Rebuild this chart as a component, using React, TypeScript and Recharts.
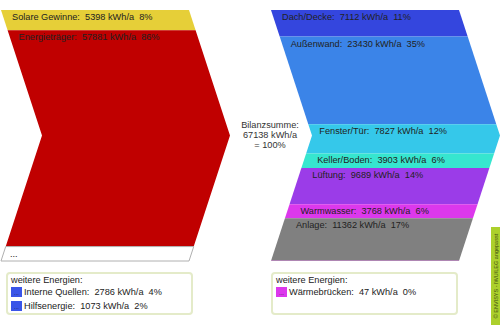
import React from 'react';
import { BarChart, Bar, XAxis, YAxis } from 'recharts';

// Energiezufuhr (linker Pfeil), von oben nach unten
const zufuhrNames = ['Solare Gewinne', 'Energieträger'];
const zufuhrValues = [5398, 57881];
const zufuhrColors = ['#e6cf38', '#c00000'];

const weitereZufuhrNames = ['Interne Quellen', 'Hilfsenergie'];
const weitereZufuhrValues = [2786, 1073];
const weitereZufuhrColors = ['#3a55e8', '#3a55e8'];

// Verluste (rechter Pfeil), von oben nach unten
const verlustNames = ['Dach/Decke', 'Außenwand', 'Fenster/Tür', 'Keller/Boden', 'Lüftung', 'Warmwasser', 'Anlage'];
const verlustValues = [7112, 23430, 7827, 3903, 9689, 3768, 11362];
const verlustColors = ['#3446de', '#3b84e8', '#35c8ea', '#36e6cf', '#9b3ce8', '#dc38ec', '#808080'];

const weitereVerlustNames = ['Wärmebrücken'];
const weitereVerlustValues = [47];
const weitereVerlustColors = ['#dc38ec'];

const FONT = '"Liberation Sans", Arial, sans-serif';
const FS = 9.2;
const TIP = 41; // Tiefe der Pfeilspitze

const sum = (a: number[]) => a.reduce((s, v) => s + v, 0);
const TOTAL = sum(zufuhrValues) + sum(weitereZufuhrValues);
const fmt = (name: string, v: number) => `${name}:  ${v} kWh/a  ${Math.round((v / TOTAL) * 100)}%`;

type Band = { key: string; stack: string; label: string | null; value: number; fill: string; stroke?: string };

const bands: Band[] = [
  ...zufuhrNames.map((n, i) => ({ key: `z${i}`, stack: 'zufuhr', label: fmt(n, zufuhrValues[i]), value: zufuhrValues[i], fill: zufuhrColors[i] })),
  { key: 'zw', stack: 'zufuhr', label: '...', value: sum(weitereZufuhrValues), fill: '#ffffff', stroke: '#b0b0b0' },
  ...verlustNames.map((n, i) => ({ key: `v${i}`, stack: 'verlust', label: fmt(n, verlustValues[i]), value: verlustValues[i], fill: verlustColors[i] })),
  { key: 'vw', stack: 'verlust', label: null, value: sum(weitereVerlustValues), fill: weitereVerlustColors[0] },
];

const row: Record<string, any> = { name: 'Bilanz' };
bands.forEach((b) => (row[b.key] = b.value));

const Chevron = (props: any) => {
  const { x, y, width, height, band } = props;
  const bg = props.background && props.background.height ? props.background : { y: 10, height: 251 };
  const yc = bg.y + bg.height / 2;
  const half = bg.height / 2;
  const y1 = Math.min(y, y + height);
  const y2 = Math.max(y, y + height);
  const body = width - TIP;
  const lx = (yy: number) => x + TIP * (1 - Math.abs(yy - yc) / half);
  const pts: [number, number][] = [[lx(y1), y1], [lx(y1) + body, y1]];
  const spans = y1 < yc && y2 > yc;
  if (spans) pts.push([lx(yc) + body, yc]);
  pts.push([lx(y2) + body, y2], [lx(y2), y2]);
  if (spans) pts.push([lx(yc), yc]);
  const dots = band.label === '...';
  return (
    <g>
      <polygon
        points={pts.map((p) => p.join(',')).join(' ')}
        fill={band.fill}
        stroke={band.stroke || 'none'}
        strokeWidth={band.stroke ? 1 : 0}
      />
      {band.label && (
        <text x={dots ? lx(y2) + 9 : lx(y1) + 11} y={y1 + 10} fontSize={FS} fontFamily={FONT} fill="#222" style={{ whiteSpace: 'pre' }}>
          {band.label}
        </text>
      )}
    </g>
  );
};

const Weitere = ({ left, names, values, colors }: { left: number; names: string[]; values: number[]; colors: string[] }) => (
  <div
    style={{
      position: 'absolute', left, top: 272, width: 187, height: 43, boxSizing: 'border-box',
      border: '2px solid #e4ebc9', borderRadius: 4, background: '#fff',
    }}
  >
    <div style={{ position: 'absolute', left: 3, top: -1, lineHeight: '14px', whiteSpace: 'pre' }}>weitere Energien:</div>
    {names.map((n, i) => (
      <div key={n} style={{ position: 'absolute', left: 3, top: 11 + i * 14, lineHeight: '14px', whiteSpace: 'pre', display: 'flex', alignItems: 'center' }}>
        <span
          style={{
            display: 'inline-block', width: 11, height: 10, background: colors[i], marginRight: 2,
            fontSize: 6, lineHeight: '12px', color: '#223', textAlign: 'center', overflow: 'hidden',
          }}
        >
          ...
        </span>
        {fmt(n, values[i])}
      </div>
    ))}
  </div>
);

export default function App() {
  return (
    <div style={{ position: 'absolute', left: 0, top: 0, width: 500, height: 325, background: '#fff', fontFamily: FONT, fontSize: FS, color: '#222' }}>
      <BarChart width={500} height={325} data={[row]} margin={{ top: 10, right: 0, bottom: 64, left: 0 }} barSize={229} barGap={41}>
        <XAxis dataKey="name" hide />
        <YAxis type="number" domain={[0, TOTAL]} reversed hide />
        {bands.map((b) => (
          <Bar key={b.key} dataKey={b.key} stackId={b.stack} isAnimationActive={false} shape={(p: any) => <Chevron {...p} band={b} />} />
        ))}
      </BarChart>

      <div style={{ position: 'absolute', left: 230, top: 120, width: 80, textAlign: 'center', lineHeight: '10px', color: '#333' }}>
        Bilanzsumme:<br />
        {TOTAL} kWh/a<br />= 100%
      </div>

      <Weitere left={6} names={weitereZufuhrNames} values={weitereZufuhrValues} colors={weitereZufuhrColors} />
      <Weitere left={271} names={weitereVerlustNames} values={weitereVerlustValues} colors={weitereVerlustColors} />

      <div style={{ position: 'absolute', left: 491, top: 227, width: 9, height: 98, background: '#acd02c', overflow: 'hidden' }}>
        <div
          style={{
            position: 'absolute', left: 4.5, top: 49, width: 98, transform: 'translate(-50%, -50%) rotate(-90deg)',
            fontSize: 5.5, lineHeight: '8px', whiteSpace: 'nowrap', textAlign: 'center', color: '#3f4f10',
          }}
        >
          © ENVISYS - IWU/LEG angepasst
        </div>
      </div>
    </div>
  );
}
